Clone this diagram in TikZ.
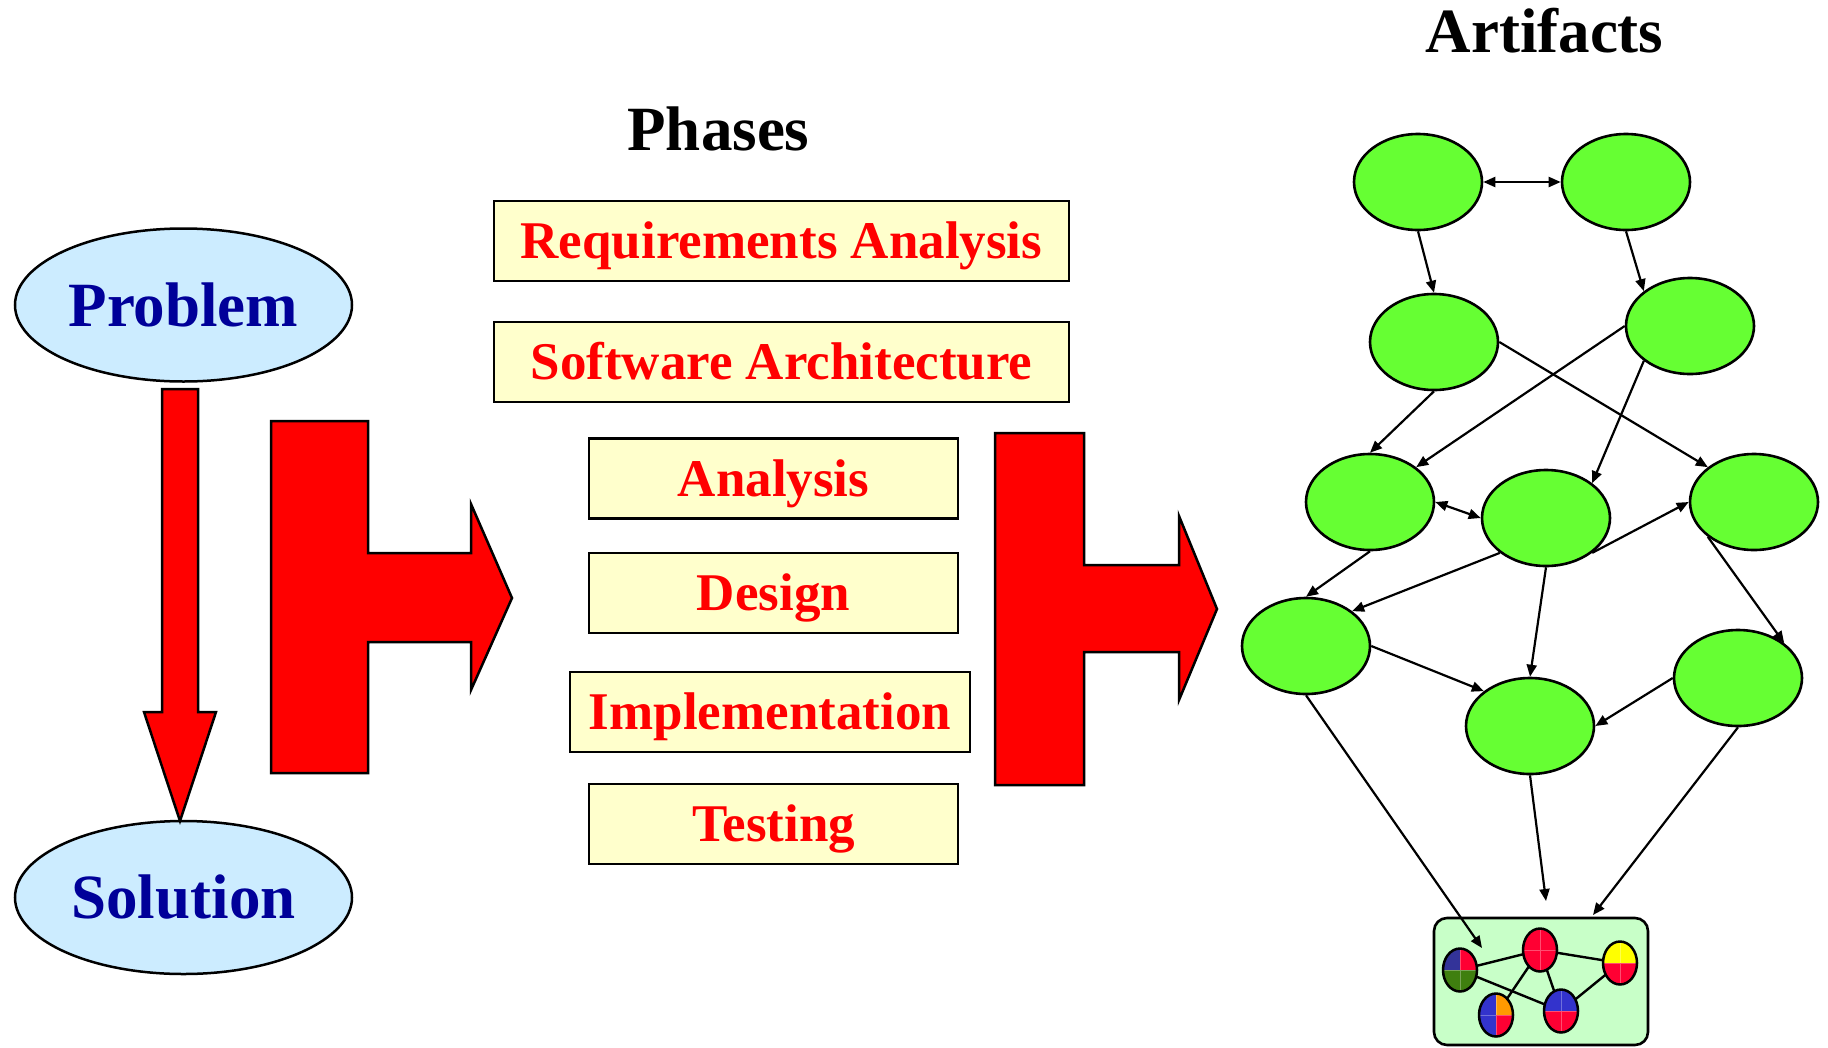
\documentclass[tikz,border=0pt]{standalone}
\usepackage{fontspec}
\setmainfont{Liberation Serif}
\usetikzlibrary{shapes.geometric,arrows.meta}

\definecolor{leaf}{HTML}{66FF33}
\definecolor{skyfill}{HTML}{CCECFF}
\definecolor{navytext}{HTML}{000099}
\definecolor{cream}{HTML}{FFFFCC}
\definecolor{mint}{HTML}{C8FFC8}
\definecolor{tokred}{HTML}{FF0033}
\definecolor{toknavy}{HTML}{333399}
\definecolor{tokblue}{HTML}{3333CC}
\definecolor{tokgreen}{HTML}{3F7F0F}
\definecolor{tokorange}{HTML}{FF9900}
\definecolor{tokyellow}{HTML}{FFFF00}

% a small artifact token split into four coloured quarters
\newcommand\artnode[7]{%
  \begin{scope}
    \clip (#2,#3) ellipse [x radius=17, y radius=21.5];
    \fill[#4] (#2,#3) rectangle ++(-20,-25);
    \fill[#5] (#2,#3) rectangle ++(20,-25);
    \fill[#6] (#2,#3) rectangle ++(-20,25);
    \fill[#7] (#2,#3) rectangle ++(20,25);
    \draw[white, opacity=0.3, line width=0.8pt]
      (#2-20,#3) -- (#2+20,#3) (#2,#3-25) -- (#2,#3+25);
  \end{scope}
  \node[token] (#1) at (#2,#3) {};
}

\begin{document}
\begin{tikzpicture}[x=1pt, y=-1pt,
  endpoint/.style={ellipse, draw, line width=2.5pt, fill=skyfill,
    minimum width=337pt, minimum height=153pt, inner sep=0pt,
    text=navytext, font=\fontsize{63}{70}\selectfont\bfseries,
    text height=42pt, text depth=0pt},
  phasebox/.style={rectangle, draw, line width=2.8pt, fill=cream,
    minimum height=80pt, inner sep=0pt, text=red,
    font=\fontsize{53}{60}\selectfont\bfseries,
    text height=35pt, text depth=0pt},
  heading/.style={font=\fontsize{63}{70}\selectfont\bfseries, inner sep=0pt, anchor=base},
  blockarrow/.style={fill=red, draw=black, line width=2.5pt, line join=miter},
  artifact/.style={ellipse, draw, line width=2.6pt, fill=leaf,
    minimum width=128pt, minimum height=96pt, inner sep=0pt},
  link/.style={line width=2.2pt, -{Triangle[length=12pt,width=10pt]}},
  twoway/.style={line width=2.2pt, {Triangle[length=12pt,width=10pt]}-{Triangle[length=12pt,width=10pt]}},
  collection/.style={rectangle, rounded corners=13pt, draw, line width=2.6pt,
    fill=mint, minimum width=214pt, minimum height=127pt, inner sep=0pt},
  token/.style={ellipse, draw, line width=2.5pt, minimum width=34pt,
    minimum height=43pt, inner sep=0pt},
  tie/.style={line width=2.4pt, shorten >=3pt, shorten <=3pt}
]
\useasboundingbox (0,0) rectangle (1828,1047);

% titles
\node[heading] (phases) at (718.5,150) {Phases};
\node[heading] (artifacts) at (1544.5,52) {Artifacts};

% problem and solution
\node[endpoint] (problem) at (183.5,305) {Problem};
\node[endpoint] (solution) at (183.5,897.5) {Solution};

% block arrows
\draw[blockarrow] (162,389) -- (198,389) -- (198,712) -- (216,712) -- (180,821)
  -- (144,712) -- (162,712) -- cycle;
\draw[blockarrow] (271,421) -- (368,421) -- (368,553) -- (471,553) -- (471,504)
  -- (512,598) -- (471,690) -- (471,642) -- (368,642) -- (368,773) -- (271,773) -- cycle;
\draw[blockarrow] (995,433) -- (1084,433) -- (1084,565) -- (1179,565) -- (1179,516)
  -- (1217,609) -- (1179,700) -- (1179,652) -- (1084,652) -- (1084,785) -- (995,785) -- cycle;

% phases
\node[phasebox, minimum width=575pt] (req) at (781.5,241) {Requirements Analysis};
\node[phasebox, minimum width=575pt] (arch) at (781.5,362) {Software Architecture};
\node[phasebox, minimum width=369pt] (ana) at (773.5,478.5) {Analysis};
\node[phasebox, minimum width=369pt] (des) at (773.5,593) {Design};
\node[phasebox, minimum width=400pt] (impl) at (770,712) {Implementation};
\node[phasebox, minimum width=369pt] (test) at (773.5,824) {Testing};

% artifact graph
\node[artifact] (n1) at (1418,182) {};
\node[artifact] (n2) at (1626,182) {};
\node[artifact] (n3) at (1434,342) {};
\node[artifact] (n4) at (1690,326) {};
\node[artifact] (n5) at (1370,502) {};
\node[artifact] (n6) at (1546,518) {};
\node[artifact] (n7) at (1754,502) {};
\node[artifact] (n8) at (1306,646) {};
\node[artifact] (n9) at (1530,726) {};
\node[artifact] (n10) at (1738,678) {};

\draw[twoway] (n1.east) -- (n2.west);
\draw[link] (n1.south) -- (n3.north);
\draw[link] (n2.south) -- (n4.north west);
\draw[link] (n3.south) -- (n5.north);
\draw[link] (n4.west) -- (n5.north east);
\draw[link] (n3.east) -- (n7.north west);
\draw[link] (n4.south west) -- (n6.north east);
\draw[twoway] (n5.east) -- (n6.west);
\draw[link] (n6.south east) -- (n7.west);
\draw[link] (n5.south) -- (n8.north);
\draw[link] (n6.south west) -- (n8.north east);
\draw[link] (n6.south) -- (n9.north);
\draw[link] (n7.south west) -- (n10.north east);
\draw[link] (n8.east) -- (n9.north west);
\draw[link] (n10.west) -- (n9.east);

% integrated result
\node[collection] (pool) at (1541,981.5) {};
\coordinate (in1) at (1482,948);
\coordinate (in2) at (1546,901);
\coordinate (in3) at (1593,915);
\draw[link] (n8.south) -- (in1);
\draw[link] (n9.south) -- (in2);
\draw[link] (n10.south) -- (in3);

\draw[tie] (1460,970) -- (1540,950);
\draw[tie] (1460,970) -- (1561,1011);
\draw[tie] (1540,950) -- (1620,963);
\draw[tie] (1540,950) -- (1496,1015);
\draw[tie] (1540,950) -- (1561,1011);
\draw[tie] (1620,963) -- (1561,1011);

\artnode{ta}{1460}{970}{toknavy}{tokred}{tokgreen}{tokgreen}
\artnode{tb}{1540}{950}{tokred}{tokred}{tokred}{tokred}
\artnode{tc}{1620}{963}{tokyellow}{tokyellow}{tokred}{tokred}
\artnode{td}{1496}{1015}{tokblue}{tokorange}{tokblue}{tokred}
\artnode{te}{1561}{1011}{tokblue}{tokblue}{tokred}{tokred}
\end{tikzpicture}
\end{document}
